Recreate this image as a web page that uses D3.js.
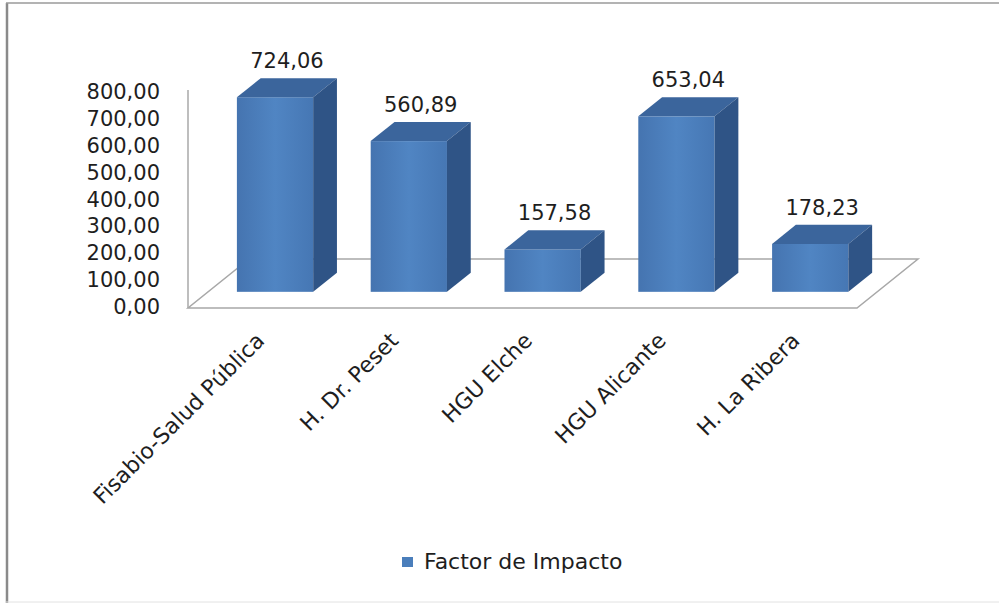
<!DOCTYPE html>
<html>
<head>
<meta charset="utf-8">
<script src="https://cdn.jsdelivr.net/npm/d3@7"></script>
<style>
  body { margin: 0; background: #fff; }
  svg { display: block; font-family: "DejaVu Sans", sans-serif; }
</style>
</head>
<body>
<div class="main-container"></div>
<script>
// chart data
const categories = ['Fisabio-Salud Pública', 'H. Dr. Peset', 'HGU Elche', 'HGU Alicante', 'H. La Ribera'];
const values = [724.06, 560.89, 157.58, 653.04, 178.23];
const yTicks = [0, 100, 200, 300, 400, 500, 600, 700, 800];
const seriesName = 'Factor de Impacto';

// layout
const width = 999;
const height = 603;
const floor = {l: 188, r: 857, y: 308};
const depth = {dx: 61, dy: -49};       // floor depth (3d offset)
const barFront = 0.33;                 // where bars start inside the floor depth
const barDepth = 0.39;                 // how deep bars are

const colors = {front: '#4a7ebb', top: '#3b659c', side: '#2f5486', floor: '#a8a8a8'};

// spanish number format
const es = d3.formatLocale({decimal: ',', thousands: '.', grouping: [3], currency: ['', ' €']});
const fmt = es.format('.2f');

const svg = d3.select('.main-container')
    .append('svg')
    .attr('width', width)
    .attr('height', height);

// gradient for the front faces
const grad = svg.append('defs').append('linearGradient')
    .attr('id', 'frontGrad')
    .attr('x1', '0%').attr('x2', '100%').attr('y1', '0%').attr('y2', '0%');
grad.append('stop').attr('offset', '0%').attr('stop-color', '#4574b0');
grad.append('stop').attr('offset', '50%').attr('stop-color', '#5085c3');
grad.append('stop').attr('offset', '100%').attr('stop-color', '#4677b4');

// chart border
svg.append('line').attr('x1', 7).attr('x2', 7).attr('y1', 3).attr('y2', height)
    .attr('stroke', '#8a8a8a').attr('stroke-width', 2.5);
svg.append('line').attr('x1', 6).attr('x2', width).attr('y1', 3).attr('y2', 3)
    .attr('stroke', '#9a9a9a').attr('stroke-width', 1.5);
svg.append('line').attr('x1', 6).attr('x2', width).attr('y1', 602).attr('y2', 602)
    .attr('stroke', '#e2e2e2').attr('stroke-width', 1);

// scales
const y = d3.scaleLinear()
    .domain([0, 800])
    .range([floor.y, 93]);

const x = d3.scaleBand()
    .domain(categories)
    .range([floor.l, floor.r])
    .paddingInner(0.43)
    .paddingOuter(0.215);

// floor
svg.append('polygon')
    .attr('points', [
        [floor.l, floor.y],
        [floor.r, floor.y],
        [floor.r + depth.dx, floor.y + depth.dy],
        [floor.l + depth.dx, floor.y + depth.dy]
    ].map(p => p.join(',')).join(' '))
    .attr('fill', 'none')
    .attr('stroke', colors.floor)
    .attr('stroke-width', 1.5);

// vertical axis line
svg.append('line')
    .attr('x1', floor.l).attr('x2', floor.l)
    .attr('y1', y(0)).attr('y2', y(800) - 3)
    .attr('stroke', colors.floor)
    .attr('stroke-width', 1.5);

// y tick labels
svg.append('g')
    .selectAll('text')
    .data(yTicks)
    .join('text')
    .attr('x', 160)
    .attr('y', d => y(d) + 6)
    .attr('text-anchor', 'end')
    .attr('font-size', 21)
    .attr('fill', '#1e1e1e')
    .text(d => fmt(d));

// bars
const bw = x.bandwidth();
const ddx = barDepth * depth.dx;
const ddy = barDepth * depth.dy;

const bars = categories.map((c, i) => {
    const x0 = x(c) + barFront * depth.dx;
    const bottom = y(0) + barFront * depth.dy;
    const top = y(values[i]) + barFront * depth.dy;
    return {name: c, value: values[i], x0, bottom, top};
});

const g = svg.append('g').selectAll('g')
    .data(bars)
    .join('g');

g.append('rect')
    .attr('x', d => d.x0)
    .attr('y', d => d.top)
    .attr('width', bw)
    .attr('height', d => d.bottom - d.top)
    .attr('fill', 'url(#frontGrad)');

g.append('polygon')
    .attr('points', d => [
        [d.x0, d.top], [d.x0 + bw, d.top],
        [d.x0 + bw + ddx, d.top + ddy], [d.x0 + ddx, d.top + ddy]
    ].map(p => p.join(',')).join(' '))
    .attr('fill', colors.top);

g.append('polygon')
    .attr('points', d => [
        [d.x0 + bw, d.top], [d.x0 + bw + ddx, d.top + ddy],
        [d.x0 + bw + ddx, d.bottom + ddy], [d.x0 + bw, d.bottom]
    ].map(p => p.join(',')).join(' '))
    .attr('fill', colors.side);

// value labels
g.append('text')
    .attr('x', d => d.x0 + (bw + ddx) / 2)
    .attr('y', d => d.top + ddy - 10)
    .attr('text-anchor', 'middle')
    .attr('font-size', 21)
    .attr('fill', '#1e1e1e')
    .text(d => fmt(d.value));

// category labels
svg.append('g')
    .selectAll('text')
    .data(categories)
    .join('text')
    .attr('transform', d => `translate(${x(d) + bw / 2 + 11},342) rotate(-45)`)
    .attr('text-anchor', 'end')
    .attr('font-size', 22)
    .attr('fill', '#1e1e1e')
    .text(d => d);

// legend
const legend = svg.append('g').attr('transform', 'translate(402,557)');
legend.append('rect')
    .attr('width', 11).attr('height', 10)
    .attr('fill', colors.front);
legend.append('text')
    .attr('x', 22)
    .attr('y', 12)
    .attr('font-size', 22)
    .attr('fill', '#1e1e1e')
    .text(seriesName);
</script>
</body>
</html>
